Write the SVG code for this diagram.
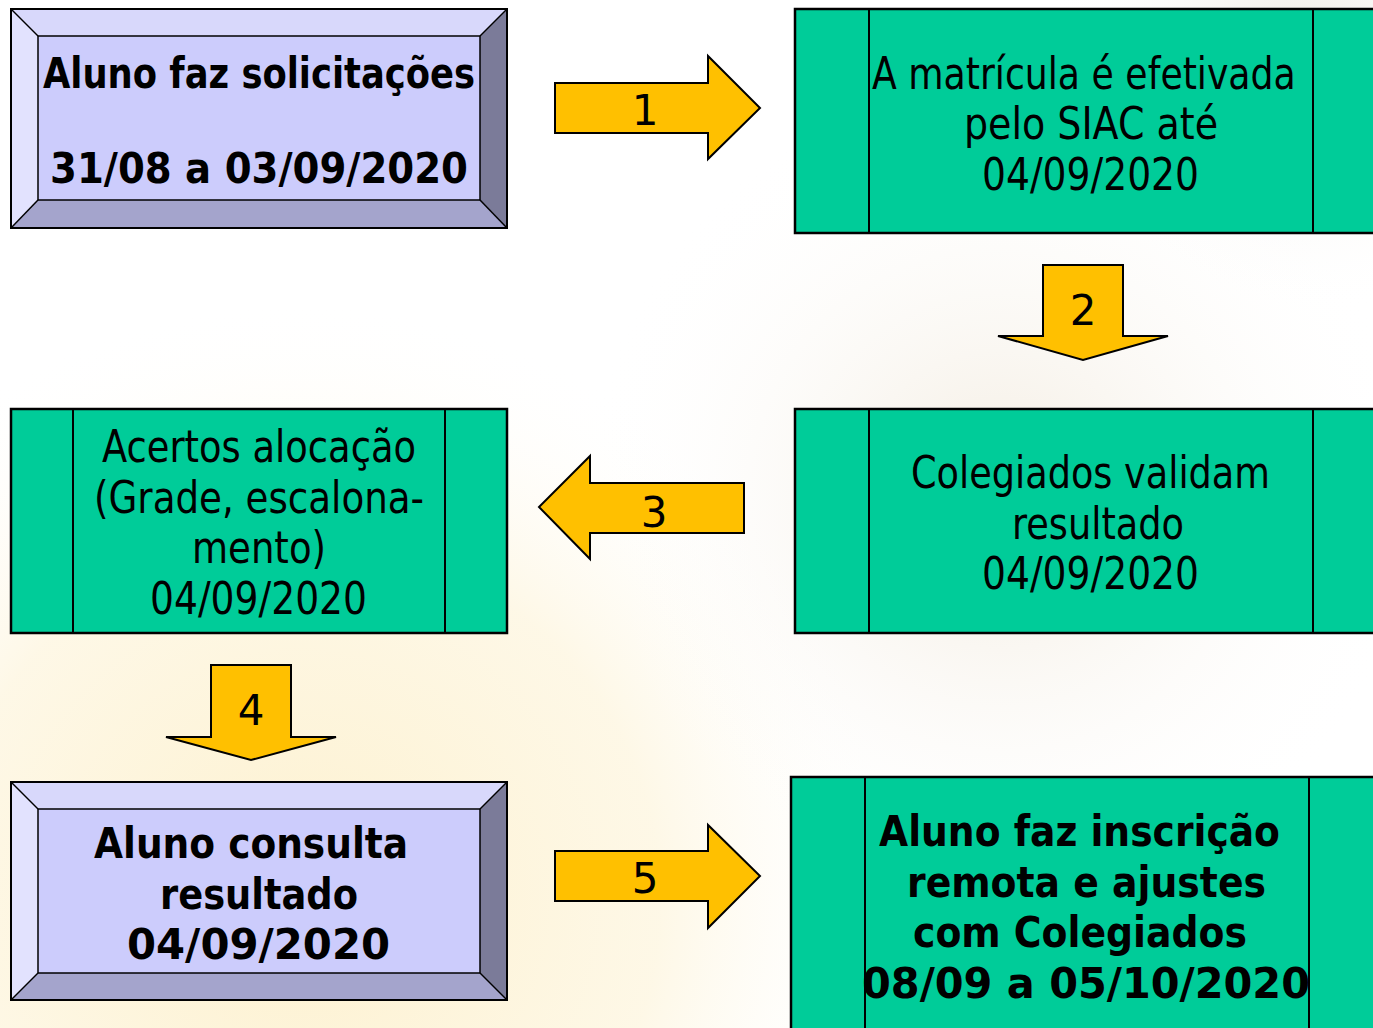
<svg xmlns="http://www.w3.org/2000/svg" width="1373" height="1028" viewBox="0 0 1373 1028">
  <defs>
    <style>
      .t { font-family: "DejaVu Sans", "Liberation Sans", sans-serif; fill: #000; }
      .b { font-weight: bold; font-size: 42px; }
      .r { font-size: 44px; }
      .n { font-size: 42px; text-anchor: middle; }
      .green { fill: #00cc99; stroke: #000; stroke-width: 2.5; }
      .div { stroke: #000; stroke-width: 2; }
      .arrow { fill: #ffc000; stroke: #000; stroke-width: 2; stroke-linejoin: miter; }
      .bv { stroke: #000; stroke-width: 1.5; }
      .ftop { fill: #d8d8fb; }
      .fleft { fill: #e2e2fe; }
      .fright { fill: #7b7b99; }
      .fbot { fill: #a4a4cc; }
      .fin { fill: #ccccfc; }
    </style>
    <radialGradient id="warm" cx="300" cy="900" r="600" gradientUnits="userSpaceOnUse">
      <stop offset="0" stop-color="#fdf1cf" stop-opacity="1"/>
      <stop offset="0.6" stop-color="#fdf3d6" stop-opacity="0.6"/>
      <stop offset="1" stop-color="#ffffff" stop-opacity="0"/>
    </radialGradient>
    <radialGradient id="logo" cx="1000" cy="500" r="420" gradientUnits="userSpaceOnUse">
      <stop offset="0" stop-color="#e9dcc6" stop-opacity="0.55"/>
      <stop offset="1" stop-color="#ffffff" stop-opacity="0"/>
    </radialGradient>
    <radialGradient id="topr" cx="1300" cy="60" r="260" gradientUnits="userSpaceOnUse">
      <stop offset="0" stop-color="#ece8e0" stop-opacity="0.9"/>
      <stop offset="1" stop-color="#ffffff" stop-opacity="0"/>
    </radialGradient>
  </defs>

  <g id="background">
    <rect x="0" y="0" width="1373" height="1028" fill="#ffffff"/>
    <rect x="0" y="0" width="1373" height="1028" fill="url(#warm)"/>
    <rect x="0" y="0" width="1373" height="1028" fill="url(#logo)"/>
    <rect x="0" y="0" width="1373" height="1028" fill="url(#topr)"/>
  </g>

  <g id="connectors">
    <g id="arrow1">
      <polygon class="arrow" points="555,83 708,83 708,56 760,108 708,159 708,133 555,133"/>
      <text class="t n" x="645" y="125">1</text>
    </g>
    <g id="arrow2">
      <polygon class="arrow" points="1043,265 1123,265 1123,336 1168,336 1083,360 998,336 1043,336"/>
      <text class="t n" x="1083" y="325">2</text>
    </g>
    <g id="arrow3">
      <polygon class="arrow" points="744,483 590,483 590,456 539,507 590,559 590,533 744,533"/>
      <text class="t n" x="654" y="527">3</text>
    </g>
    <g id="arrow4">
      <polygon class="arrow" points="211,665 291,665 291,737 336,737 251,760 166,737 211,737"/>
      <text class="t n" x="251" y="725">4</text>
    </g>
    <g id="arrow5">
      <polygon class="arrow" points="555,851 708,851 708,825 760,876 708,928 708,901 555,901"/>
      <text class="t n" x="645" y="893">5</text>
    </g>
  </g>

  <g id="node1">
    <polygon class="ftop" points="11,9 507,9 480,36 38,36"/>
    <polygon class="fleft" points="11,9 38,36 38,200 11,228"/>
    <polygon class="fright" points="507,9 507,228 480,200 480,36"/>
    <polygon class="fbot" points="11,228 38,200 480,200 507,228"/>
    <rect class="fin bv" x="38" y="36" width="442" height="164"/>
    <line class="bv" x1="11" y1="9" x2="38" y2="36"/>
    <line class="bv" x1="507" y1="9" x2="480" y2="36"/>
    <line class="bv" x1="11" y1="228" x2="38" y2="200"/>
    <line class="bv" x1="507" y1="228" x2="480" y2="200"/>
    <rect x="11" y="9" width="496" height="219" fill="none" stroke="#000" stroke-width="2"/>
    <text class="t b" x="43" y="88" textLength="432" lengthAdjust="spacingAndGlyphs">Aluno faz solicitações</text>
    <text class="t b" x="50" y="183" textLength="418" lengthAdjust="spacingAndGlyphs">31/08 a 03/09/2020</text>
  </g>

  <g id="node2">
    <rect class="green" x="795" y="9" width="600" height="224"/>
    <line class="div" x1="869" y1="9" x2="869" y2="233"/>
    <line class="div" x1="1313" y1="9" x2="1313" y2="233"/>
    <text class="t r" transform="translate(872,89) scale(0.75,1)" x="0" y="0" textLength="565" lengthAdjust="spacingAndGlyphs">A matrícula é efetivada</text>
    <text class="t r" x="964" y="139" textLength="254" lengthAdjust="spacingAndGlyphs">pelo SIAC até</text>
    <text class="t r" x="982" y="190" textLength="217" lengthAdjust="spacingAndGlyphs">04/09/2020</text>
  </g>

  <g id="node3">
    <rect class="green" x="795" y="409" width="600" height="224"/>
    <line class="div" x1="869" y1="409" x2="869" y2="633"/>
    <line class="div" x1="1313" y1="409" x2="1313" y2="633"/>
    <text class="t r" x="911" y="488" textLength="359" lengthAdjust="spacingAndGlyphs">Colegiados validam</text>
    <text class="t r" x="1012" y="539" textLength="172" lengthAdjust="spacingAndGlyphs">resultado</text>
    <text class="t r" x="982" y="589" textLength="217" lengthAdjust="spacingAndGlyphs">04/09/2020</text>
  </g>

  <g id="node4">
    <rect class="green" x="11" y="409" width="496" height="224"/>
    <line class="div" x1="73" y1="409" x2="73" y2="633"/>
    <line class="div" x1="445" y1="409" x2="445" y2="633"/>
    <text class="t r" x="102" y="462" textLength="314" lengthAdjust="spacingAndGlyphs">Acertos alocação</text>
    <text class="t r" x="94" y="513" textLength="330" lengthAdjust="spacingAndGlyphs">(Grade, escalona-</text>
    <text class="t r" x="192" y="563" textLength="134" lengthAdjust="spacingAndGlyphs">mento)</text>
    <text class="t r" x="150" y="614" textLength="217" lengthAdjust="spacingAndGlyphs">04/09/2020</text>
  </g>

  <g id="node5">
    <polygon class="ftop" points="11,782 507,782 480,809 38,809"/>
    <polygon class="fleft" points="11,782 38,809 38,973 11,1000"/>
    <polygon class="fright" points="507,782 507,1000 480,973 480,809"/>
    <polygon class="fbot" points="11,1000 38,973 480,973 507,1000"/>
    <rect class="fin bv" x="38" y="809" width="442" height="164"/>
    <line class="bv" x1="11" y1="782" x2="38" y2="809"/>
    <line class="bv" x1="507" y1="782" x2="480" y2="809"/>
    <line class="bv" x1="11" y1="1000" x2="38" y2="973"/>
    <line class="bv" x1="507" y1="1000" x2="480" y2="973"/>
    <rect x="11" y="782" width="496" height="218" fill="none" stroke="#000" stroke-width="2"/>
    <text class="t b" x="94" y="858" textLength="314" lengthAdjust="spacingAndGlyphs">Aluno consulta</text>
    <text class="t b" x="160" y="909" textLength="198" lengthAdjust="spacingAndGlyphs">resultado</text>
    <text class="t b" x="127" y="959" textLength="263" lengthAdjust="spacingAndGlyphs">04/09/2020</text>
  </g>

  <g id="node6">
    <rect class="green" x="791" y="777" width="610" height="270"/>
    <line class="div" x1="865" y1="777" x2="865" y2="1028"/>
    <line class="div" x1="1309" y1="777" x2="1309" y2="1028"/>
    <text class="t b" x="879" y="846" textLength="401" lengthAdjust="spacingAndGlyphs">Aluno faz inscrição</text>
    <text class="t b" x="907" y="897" textLength="359" lengthAdjust="spacingAndGlyphs">remota e ajustes</text>
    <text class="t b" x="913" y="947" textLength="334" lengthAdjust="spacingAndGlyphs">com Colegiados</text>
    <text class="t b" x="862" y="998" textLength="448" lengthAdjust="spacingAndGlyphs">08/09 a 05/10/2020</text>
  </g>
</svg>
